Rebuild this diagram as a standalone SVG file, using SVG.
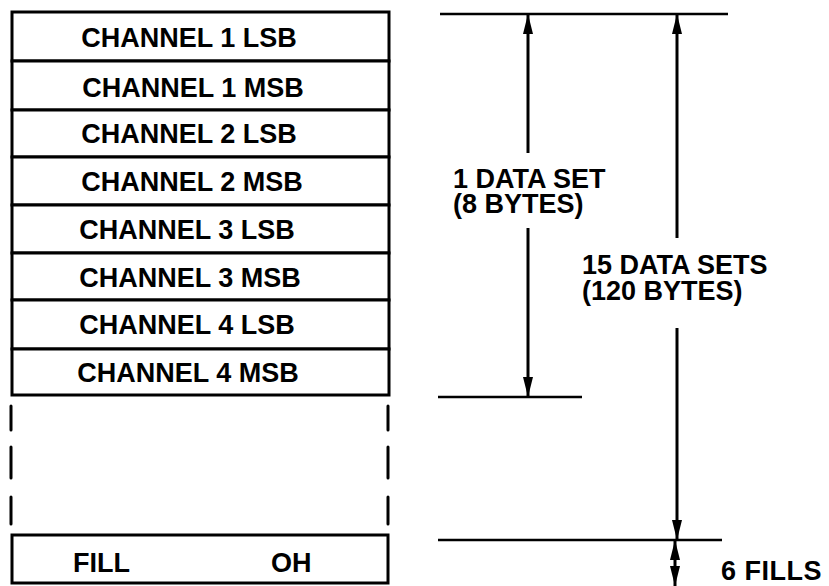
<svg xmlns="http://www.w3.org/2000/svg" width="829" height="586" viewBox="0 0 829 586">
<defs>
<style>
.t{font-family:"Liberation Sans",Arial,sans-serif;font-weight:bold;font-size:27px;fill:#000}
.c{text-anchor:middle}
.b{fill:#fff;stroke:#000;stroke-width:3}
.ln{stroke:#000;stroke-width:3;fill:none}
.hl{stroke:#000;stroke-width:2.5;fill:none}
.dash{stroke:#000;stroke-width:3;fill:none;stroke-linecap:round}
</style>
<marker id="ah" viewBox="0 0 20 12" refX="20" refY="6" markerWidth="20" markerHeight="12" markerUnits="userSpaceOnUse" orient="auto-start-reverse">
<path d="M0,1 L20,6 L0,11 Z" fill="#000"/>
</marker>
</defs>
<rect width="829" height="586" fill="#fff"/>
<g id="row1"><rect class="b" x="12" y="12" width="377" height="49"/><text class="t c" x="189" y="47">CHANNEL 1 LSB</text></g>
<g id="row2"><rect class="b" x="12" y="61" width="377" height="49"/><text class="t c" x="193" y="97">CHANNEL 1 MSB</text></g>
<g id="row3"><rect class="b" x="12" y="110" width="377" height="47"/><text class="t c" x="189" y="143">CHANNEL 2 LSB</text></g>
<g id="row4"><rect class="b" x="12" y="157" width="377" height="48"/><text class="t c" x="192" y="191">CHANNEL 2 MSB</text></g>
<g id="row5"><rect class="b" x="12" y="205" width="377" height="48"/><text class="t c" x="187" y="239">CHANNEL 3 LSB</text></g>
<g id="row6"><rect class="b" x="12" y="253" width="377" height="47"/><text class="t c" x="190" y="287">CHANNEL 3 MSB</text></g>
<g id="row7"><rect class="b" x="12" y="300" width="377" height="49"/><text class="t c" x="187" y="334">CHANNEL 4 LSB</text></g>
<g id="row8"><rect class="b" x="12" y="349" width="377" height="46"/><text class="t c" x="188" y="382">CHANNEL 4 MSB</text></g>
<g id="gap">
<path class="dash" d="M11,406 V430 M11,447 V478 M11,497 V524 M388,406 V430 M388,447 V478 M388,497 V524"/>
</g>
<g id="fill"><rect class="b" x="12" y="535" width="376" height="48"/><text class="t" x="73" y="572">FILL</text><text class="t" x="271" y="572">OH</text></g>
<g id="connectors">
<path class="hl" d="M440,14 H728"/>
<path class="hl" d="M438,397 H582"/>
<path class="hl" d="M438,540 H722"/>
<path class="ln" d="M528,153 V14" marker-end="url(#ah)"/>
<path class="ln" d="M528,228 V397" marker-end="url(#ah)"/>
<path class="ln" d="M677,238 V14" marker-end="url(#ah)"/>
<path class="ln" d="M677,328 V540" marker-end="url(#ah)"/>
<path class="ln" d="M675,560 V540" marker-end="url(#ah)"/>
<path class="ln" d="M675,560 V586" marker-end="url(#ah)"/>
</g>
<g id="labels">
<text class="t" x="453" y="188">1 DATA SET<tspan x="453" y="213">(8 BYTES)</tspan></text>
<text class="t" x="582" y="274">15 DATA SETS<tspan x="582" y="300">(120 BYTES)</tspan></text>
<text class="t" x="721" y="580" letter-spacing="0.5">6 FILLS</text>
</g>
</svg>
